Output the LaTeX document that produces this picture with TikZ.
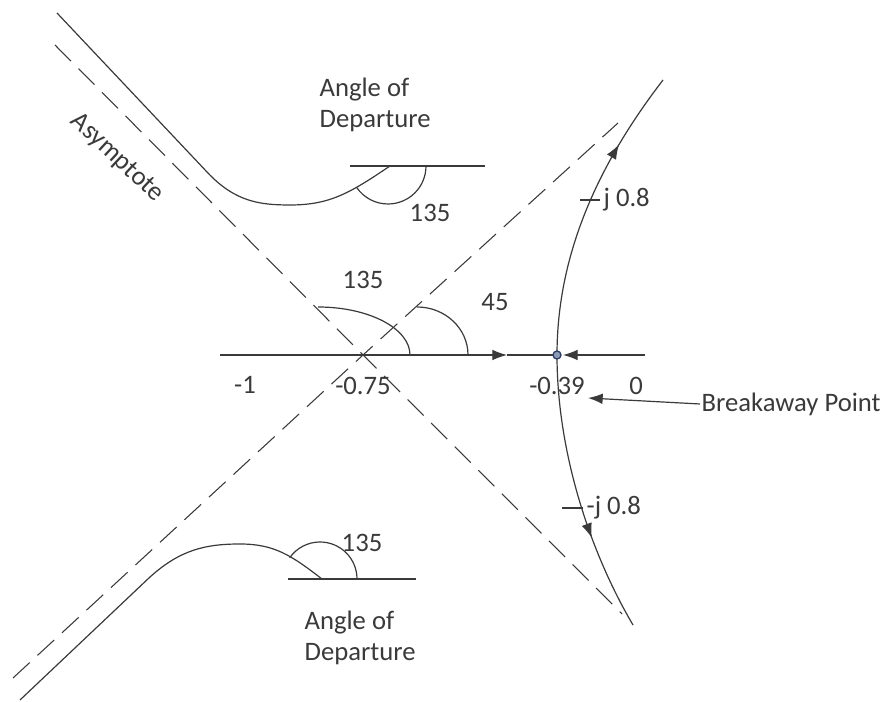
\documentclass[tikz,border=0pt]{standalone}
\usepackage{fontspec}
\setmainfont{Carlito}
\usetikzlibrary{arrows.meta,decorations.markings}
\definecolor{ink}{HTML}{3A3A3A}
\definecolor{dotline}{HTML}{2F3E66}
\definecolor{dotfill}{HTML}{8C9BB5}
\begin{document}
\begin{tikzpicture}[
    x=0.75pt, y=0.75pt,
    line/.style={draw=ink, line width=0.9pt},
    asym/.style={draw=ink, line width=0.8pt, dash pattern=on 17pt off 8pt},
    lbl/.style={text=ink, font=\fontsize{20}{23}\selectfont, inner sep=1pt},
    tip/.style={-{Latex[length=11pt,width=8pt]}},
    arrowat/.style={postaction={decorate}, decoration={markings,
        mark=at position #1 with {\arrow{Latex[length=11pt,width=8pt]}}}},
]
\useasboundingbox (0,0) rectangle (892,702);

% Points
\coordinate (c) at (363,347);
\coordinate (b) at (557,347);
\coordinate (p1) at (390,536);
\coordinate (p2) at (322,123);

% Asymptotes
\draw[asym] (55,657) -- (c) -- (622,88);
\draw[asym] (13,24) -- (c) -- (618,579);
\node[lbl, rotate=-43] (asy) at (117,544) {Asymptote};

% Real axis
\draw[line, tip] (220,347) -- (507,347);
\draw[line] (507,347) -- (b);
\draw[line, tip] (645,347) -- (563,347);
\node[lbl] (m1) at (245,317) {-1};
\node[lbl] (m075) at (363,316) {-0.75};
\node[lbl] (m039) at (557,316) {-0.39};
\node[lbl] (zero) at (636,316) {0};

% Angles at centroid
\draw[line] (318,395) arc[start angle=90, end angle=0, x radius=92, y radius=48];
\draw[line] (417,395) arc[start angle=90, end angle=0, x radius=51, y radius=48];
\node[lbl] (a135) at (363,422) {135};
\node[lbl] (a45) at (495,400) {45};

% Upper branch
\draw[line] (57,689) -- (207,530) .. controls (235,500) and (260,497) .. (290,497)
    .. controls (330,497) and (350,509) .. (p1);
\draw[line] (350,536) -- (485,536);
\draw[line] (426,536) arc[start angle=0, end angle=-145, radius=38];
\node[lbl] (u135) at (430,489) {135};
\node[lbl, anchor=west, align=left] (udep) at (318,597) {Angle of\\Departure};

% Lower branch
\draw[line] (20,2) -- (150,125) .. controls (180,152) and (205,158) .. (240,158)
    .. controls (275,158) and (292,146) .. (p2);
\draw[line] (288,123) -- (416,123);
\draw[line] (357,123) arc[start angle=0, end angle=145, radius=37];
\node[lbl] (l135) at (362,159) {135};
\node[lbl, anchor=west, align=left] (ldep) at (303,64) {Angle of\\Departure};

% Breakaway branches
\draw[line, arrowat=0.74] (b) .. controls (557,450) and (600,540) .. (663,622);
\draw[line, arrowat=0.66] (b) .. controls (557,250) and (590,150) .. (633,77);
\draw[line] (580,502) -- (600,502);
\draw[line] (562,194) -- (583,194);
\node[lbl, anchor=west] (jp) at (602,502) {j 0.8};
\node[lbl, anchor=west] (jm) at (585,194) {-j 0.8};

% Breakaway point
\node[circle, draw=dotline, fill=dotfill, line width=1pt, inner sep=0pt,
    minimum size=6pt] (bp) at (b) {};
\node[lbl, anchor=west] (brk) at (700,298) {Breakaway Point};
\draw[line, tip] (brk.west) -- (588,304);

\end{tikzpicture}
\end{document}
